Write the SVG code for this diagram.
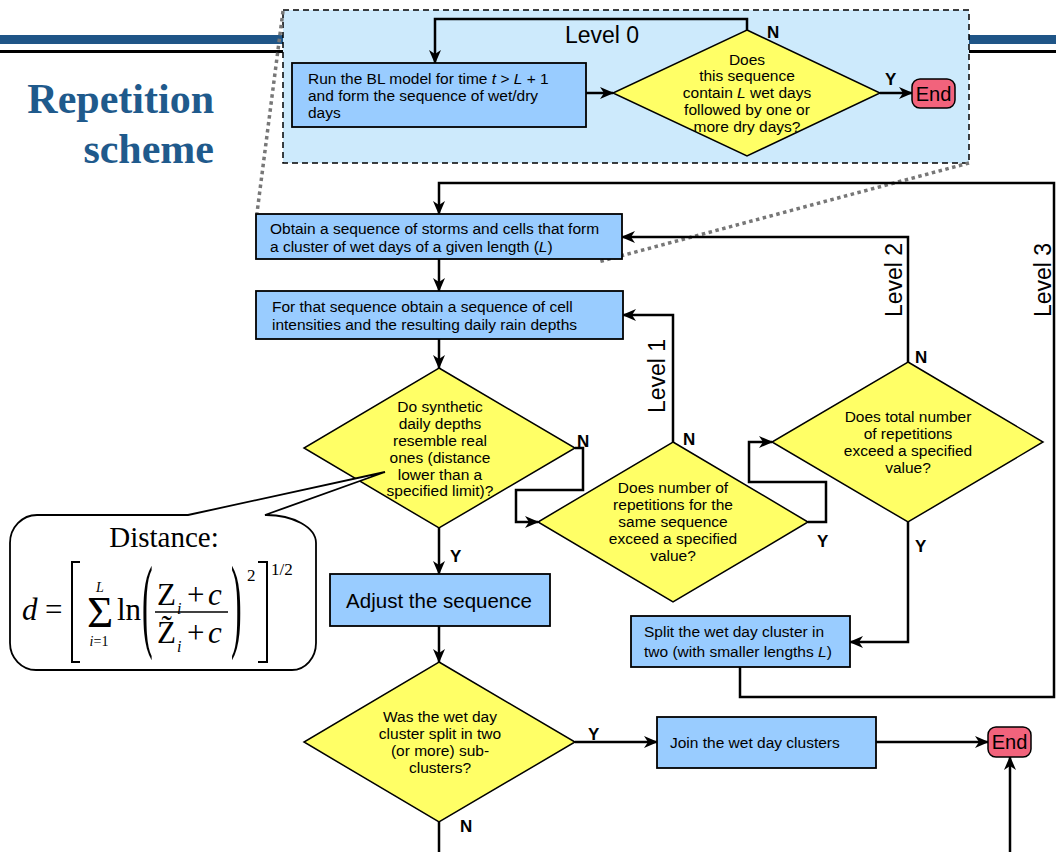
<svg xmlns="http://www.w3.org/2000/svg" width="1056" height="852" viewBox="0 0 1056 852">
<style>
.box{fill:#99ccff;stroke:#000;stroke-width:1.8}
.dia{fill:#ffff66;stroke:#000;stroke-width:1.5}
.end{fill:#f2637c;stroke:#000;stroke-width:1.5}
.t{font-family:"Liberation Sans",Arial,sans-serif;font-size:15.5px;fill:#000}
.big{font-family:"Liberation Sans",Arial,sans-serif;font-size:20px;fill:#000;text-anchor:middle}
.c{text-anchor:middle}
.lab{font-family:"Liberation Sans",Arial,sans-serif;font-size:17px;font-weight:bold;fill:#000}
.lvl{font-family:"Liberation Sans",Arial,sans-serif;font-size:23px;fill:#000;text-anchor:middle}
.conn{fill:none;stroke:#000;stroke-width:2.5}
.dot{fill:none;stroke:#777;stroke-width:3.5;stroke-dasharray:3.5 3.5}
.m{font-family:"Liberation Serif","Times New Roman",serif;fill:#000}
.title{font-family:"Liberation Serif","Times New Roman",serif;font-size:42px;font-weight:bold;fill:#1f5a8c;text-anchor:end}
</style>
<defs>
<marker id="ah" viewBox="0 0 14 12" refX="13" refY="6" markerWidth="14" markerHeight="12" orient="auto" markerUnits="userSpaceOnUse">
<path d="M0,0 L14,6 L0,12 L4,6 z" fill="#000"/>
</marker>
</defs>
<rect width="1056" height="852" fill="#fff"/>
<g id="header">
<rect x="0" y="35" width="1056" height="9" fill="#1f5587"/>
<line x1="0" y1="51.5" x2="1056" y2="51.5" stroke="#000" stroke-width="3"/>
<text class="title" x="214" y="113">Repetition</text>
<text class="title" x="214" y="163">scheme</text>
</g>
<g id="level0">
<rect x="283" y="10" width="686" height="153" fill="#cdeafc" stroke="#000" stroke-width="1.5" stroke-dasharray="6 4"/>
<text class="lvl" x="602" y="43">Level 0</text>
</g>
<g id="zoomlines">
<line class="dot" x1="283" y1="11" x2="257" y2="213"/>
<line class="dot" x1="969" y1="163" x2="598" y2="262"/>
</g>
<g id="connectors">
<path class="conn" d="M747,30 V19 H435 V63" marker-end="url(#ah)"/>
<path class="conn" d="M586,93 H613" marker-end="url(#ah)"/>
<path class="conn" d="M880,93 H912" marker-end="url(#ah)"/>
<path class="conn" d="M740,667 V697 H1054 V183 H439 V214" marker-end="url(#ah)"/>
<path class="conn" d="M439,259 V291" marker-end="url(#ah)"/>
<path class="conn" d="M673,442 V315 H623" marker-end="url(#ah)"/>
<path class="conn" d="M908,362 V237 H622" marker-end="url(#ah)"/>
<path class="conn" d="M439,339 V368" marker-end="url(#ah)"/>
<path class="conn" d="M575,448 H583 V490 H516 V522 H538" marker-end="url(#ah)"/>
<path class="conn" d="M808,522 H826 V482 H749 V442 H772" marker-end="url(#ah)"/>
<path class="conn" d="M908,522 V642 H850" marker-end="url(#ah)"/>
<path class="conn" d="M439,528 V574" marker-end="url(#ah)"/>
<path class="conn" d="M439,626 V662" marker-end="url(#ah)"/>
<path class="conn" d="M575,742 H657" marker-end="url(#ah)"/>
<path class="conn" d="M876,742 H988" marker-end="url(#ah)"/>
<path class="conn" d="M1010,852 V757" marker-end="url(#ah)"/>
<path class="conn" d="M439,822 V852"/>
<text class="lvl" transform="translate(665,376) rotate(-90)">Level 1</text>
<text class="lvl" transform="translate(902,280) rotate(-90)">Level 2</text>
<text class="lvl" transform="translate(1051,280) rotate(-90)">Level 3</text>
<text class="lab" x="767" y="38">N</text>
<text class="lab" x="885" y="85">Y</text>
<text class="lab" x="577" y="447">N</text>
<text class="lab" x="450" y="562">Y</text>
<text class="lab" x="683" y="445">N</text>
<text class="lab" x="817" y="547">Y</text>
<text class="lab" x="915" y="363">N</text>
<text class="lab" x="915" y="552">Y</text>
<text class="lab" x="588" y="740">Y</text>
<text class="lab" x="460" y="832">N</text>
</g>
<g id="run">
<rect class="box" x="292" y="63" width="294" height="64"/>
<text class="t" x="308" y="84">Run the BL model for time <tspan font-style="italic">t</tspan> &gt; <tspan font-style="italic">L</tspan> + 1</text>
<text class="t" x="308" y="101">and form the sequence of wet/dry</text>
<text class="t" x="308" y="118">days</text>
</g>
<g id="d0">
<polygon class="dia" points="747,30 880,93 747,156 613,93"/>
<text class="t c" x="747" y="65">Does</text>
<text class="t c" x="747" y="81">this sequence</text>
<text class="t c" x="747" y="98">contain <tspan font-style="italic">L</tspan> wet days</text>
<text class="t c" x="747" y="115">followed by one or</text>
<text class="t c" x="747" y="132">more dry days?</text>
</g>
<g id="end0">
<rect class="end" x="912" y="79" width="43" height="29" rx="8"/>
<text class="big" x="933.5" y="101">End</text>
</g>
<g id="obtain">
<rect class="box" x="256" y="214" width="366" height="45"/>
<text class="t" x="270" y="234">Obtain a sequence of storms and cells that form</text>
<text class="t" x="270" y="252">a cluster of wet days of a given length (<tspan font-style="italic">L</tspan>)</text>
</g>
<g id="forseq">
<rect class="box" x="256" y="291" width="367" height="48"/>
<text class="t" x="272" y="312">For that sequence obtain a sequence of cell</text>
<text class="t" x="272" y="330">intensities and the resulting daily rain depths</text>
</g>
<g id="d1">
<polygon class="dia" points="439,368 575,448 439,528 304,448"/>
<text class="t c" x="440" y="412">Do synthetic</text>
<text class="t c" x="440" y="429">daily depths</text>
<text class="t c" x="440" y="446">resemble real</text>
<text class="t c" x="440" y="463">ones (distance</text>
<text class="t c" x="440" y="480">lower than a</text>
<text class="t c" x="440" y="496">specified limit)?</text>
</g>
<g id="d2">
<polygon class="dia" points="673,442 808,522 673,602 538,522"/>
<text class="t c" x="673" y="493">Does number of</text>
<text class="t c" x="673" y="510">repetitions for the</text>
<text class="t c" x="673" y="527">same sequence</text>
<text class="t c" x="673" y="544">exceed a specified</text>
<text class="t c" x="673" y="561">value?</text>
</g>
<g id="d3">
<polygon class="dia" points="908,362 1043,442 908,522 772,442"/>
<text class="t c" x="908" y="422">Does total number</text>
<text class="t c" x="908" y="439">of repetitions</text>
<text class="t c" x="908" y="456">exceed a specified</text>
<text class="t c" x="908" y="473">value?</text>
</g>
<g id="split">
<rect class="box" x="631" y="616" width="219" height="51"/>
<text class="t" x="644" y="637">Split the wet day cluster in</text>
<text class="t" x="644" y="657">two (with smaller lengths <tspan font-style="italic">L</tspan>)</text>
</g>
<g id="adjust">
<rect class="box" x="330" y="574" width="220" height="52"/>
<text class="big" x="439" y="608" style="font-size:20.5px">Adjust the sequence</text>
</g>
<g id="d4">
<polygon class="dia" points="439,662 575,742 439,822 304,742"/>
<text class="t c" x="440" y="722">Was the wet day</text>
<text class="t c" x="440" y="739">cluster split in two</text>
<text class="t c" x="440" y="756">(or more) sub-</text>
<text class="t c" x="440" y="773">clusters?</text>
</g>
<g id="join">
<rect class="box" x="657" y="717" width="219" height="51"/>
<text class="t" x="670" y="748">Join the wet day clusters</text>
</g>
<g id="end1">
<rect class="end" x="988" y="727" width="43" height="30" rx="8"/>
<text class="big" x="1009.5" y="749">End</text>
</g>
<g id="callout">
<path d="M188,515 L385,472 L265,515 A50,28 0 0 1 316,543 V643 A24,27 0 0 1 292,670 H36 A26,27 0 0 1 10,643 V543 A27,28 0 0 1 37,515 Z" fill="#fff" stroke="#000" stroke-width="1.8"/>
<text class="m" x="164" y="547" font-size="29" text-anchor="middle">Distance:</text>
<text class="m" x="22" y="620" font-size="31" font-style="italic">d</text>
<text class="m" x="45" y="620" font-size="31">=</text>
<polyline points="80,562 72,562 72,662 80,662" fill="none" stroke="#000" stroke-width="2"/>
<text class="m" x="100" y="592" font-size="14" font-style="italic" text-anchor="middle">L</text>
<text class="m" x="100" y="627" font-size="45" text-anchor="middle">Σ</text>
<text class="m" x="99" y="646" font-size="14" text-anchor="middle"><tspan font-style="italic">i</tspan>=1</text>
<text class="m" x="117" y="620" font-size="31">ln</text>
<text class="m" font-size="32" transform="translate(142,638) scale(1,3.27)">(</text>
<text class="m" x="157" y="605" font-size="31">Z</text>
<text class="m" x="177" y="614" font-size="16" font-style="italic">i</text>
<text class="m" x="187" y="605" font-size="31">+</text>
<text class="m" x="208" y="605" font-size="31" font-style="italic">c</text>
<line x1="155" y1="612" x2="228" y2="612" stroke="#000" stroke-width="1.5"/>
<text class="m" x="157" y="643" font-size="31">Z&#x0303;</text>
<text class="m" x="177" y="652" font-size="16" font-style="italic">i</text>
<text class="m" x="187" y="643" font-size="31">+</text>
<text class="m" x="208" y="643" font-size="31" font-style="italic">c</text>
<text class="m" font-size="32" transform="translate(231,638) scale(1,3.27)">)</text>
<text class="m" x="247" y="581" font-size="17">2</text>
<polyline points="258,562 267,562 267,662 258,662" fill="none" stroke="#000" stroke-width="2"/>
<text class="m" x="271" y="575" font-size="17">1/2</text>
</g>
</svg>
